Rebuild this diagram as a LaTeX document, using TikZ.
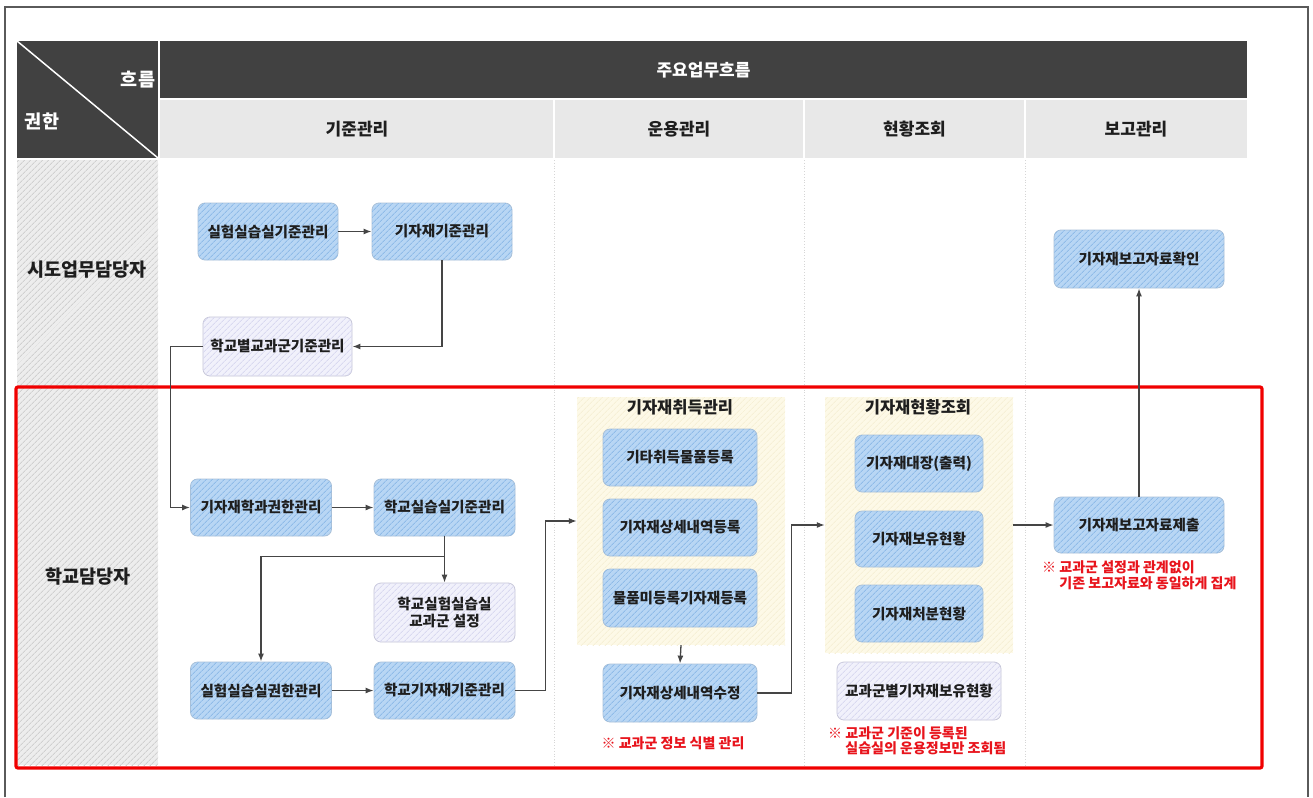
\documentclass[tikz,border=0pt]{standalone}
\usepackage{fontspec}
\setmainfont{Noto Sans CJK KR}
\usetikzlibrary{arrows.meta,patterns.meta}
\definecolor{hdark}{HTML}{414141}
\definecolor{hlight}{HTML}{E8E8E8}
\definecolor{colA}{HTML}{EDEDED}
\definecolor{colB}{HTML}{D0D0D0}
\definecolor{blueA}{HTML}{B8D6F4}
\definecolor{blueB}{HTML}{8FBBE8}
\definecolor{blueL}{HTML}{A9C0D8}
\definecolor{lavA}{HTML}{F1F1FB}
\definecolor{lavB}{HTML}{D9D9F0}
\definecolor{lavL}{HTML}{C6C6D8}
\definecolor{yelA}{HTML}{FDF9E7}
\definecolor{yelB}{HTML}{F6F0D6}
\definecolor{arrc}{HTML}{454545}
\definecolor{redc}{HTML}{F00000}
\definecolor{notec}{HTML}{E8141C}
\definecolor{txt}{HTML}{1E1E1E}
\definecolor{sep}{HTML}{D6D6D6}
\definecolor{framec}{HTML}{5A5A5A}
\begin{document}
\begin{tikzpicture}[x=1pt,y=-1pt,
  hatch/.style={postaction={pattern={Lines[angle=45,distance=4pt,line width=1pt]},pattern color=#1}},
  lbl/.style={font=\bfseries\fontsize{14.6}{17}\selectfont, text=txt, align=center, inner sep=0pt},
  box/.style={lbl, draw=blueL, line width=0.8pt, rounded corners=7pt, fill=blueA, hatch=blueB, minimum width=141pt, minimum height=57pt},
  lbox/.style={lbl, draw=lavL, line width=0.8pt, rounded corners=7pt, fill=lavA, hatch=lavB, minimum width=141pt, minimum height=59pt},
  panel/.style={fill=yelA, hatch=yelB, inner sep=0pt},
  arr/.style={draw=arrc, line width=1.3pt, -{Latex[length=8pt,width=6pt]}},
  note/.style={font=\bfseries\fontsize{14}{15.5}\selectfont, text=notec, align=left, inner sep=0pt},
  head/.style={font=\bfseries\fontsize{17}{20}\selectfont, inner sep=0pt},
  side/.style={font=\bfseries\fontsize{18.5}{21}\selectfont, inner sep=0pt, text=txt},
  ptitle/.style={font=\bfseries\fontsize{16.5}{19}\selectfont, inner sep=0pt, text=txt},
]
\useasboundingbox (0,0) rectangle (1313,797);
\fill[white] (0,0) rectangle (1313,797);
% outer frame
\draw[framec, line width=1.2pt] (5,797) -- (5,7) -- (1308,7) -- (1308,797);
% header
\fill[hdark] (17,41) rectangle (158,158);
\fill[hdark] (160,41) rectangle (1247,98);
\fill[hlight] (160,100) rectangle (1247,158);
\draw[white, line width=1.5pt] (17,41) -- (158,158);
\foreach \xx in {554,804,1025} \draw[white, line width=1.5pt] (\xx,100) -- (\xx,158);
\node[side, text=white] (hflow) at (138,80) {흐름};
\node[side, text=white] (hauth) at (42,121) {권한};
\node[head, text=white] (hmain) at (703.5,70) {주요업무흐름};
\node[head, text=txt] (h1) at (357,129) {기준관리};
\node[head, text=txt] (h2) at (679,129) {운용관리};
\node[head, text=txt] (h3) at (914.5,129) {현황조회};
\node[head, text=txt] (h4) at (1136,129) {보고관리};
% left column
\path[fill=colA, hatch=colB] (17,160) rectangle (158,765);
\node[side] (r1) at (87,270) {시도업무담당자};
\node[side] (r2) at (88,577) {학교담당자};
% body separators
\foreach \xx in {554,804,1025} \draw[sep, dotted, line width=0.8pt] (\xx,160) -- (\xx,765);
% red frame
\draw[redc, line width=3.2pt, rounded corners=2pt] (16,387) rectangle (1262,768);
% panels
\node[panel, minimum width=208pt, minimum height=248pt] (p1) at (681,521) {};
\node[panel, minimum width=188pt, minimum height=256pt] (p2) at (919,525) {};
\node[ptitle] (t1) at (680,407) {기자재취득관리};
\node[ptitle] (t2) at (918,407) {기자재현황조회};
% boxes
\node[box, minimum width=140pt] (a1) at (268,231.5) {실험실습실기준관리};
\node[box, minimum width=140pt] (a2) at (442,231.5) {기자재기준관리};
\node[lbox, minimum width=149pt] (a3) at (277.5,346.5) {학교별교과군기준관리};
\node[box, minimum width=170pt, minimum height=58pt] (e2) at (1139,259) {기자재보고자료확인};
\node[box] (b1) at (261,507.5) {기자재학과권한관리};
\node[box] (b2) at (444.5,507.5) {학교실습실기준관리};
\node[lbox] (b3) at (444.5,612.5) {학교실험실습실\\교과군 설정};
\node[box] (b4) at (261,690.5) {실험실습실권한관리};
\node[box] (b5) at (444.5,690.5) {학교기자재기준관리};
\node[box, minimum width=154pt] (c1) at (680,457.5) {기타취득물품등록};
\node[box, minimum width=154pt] (c2) at (680,527.5) {기자재상세내역등록};
\node[box, minimum width=154pt, minimum height=58pt] (c3) at (680,598) {물품미등록기자재등록};
\node[box, minimum width=154pt, minimum height=58pt] (c4) at (680,693) {기자재상세내역수정};
\node[box, minimum width=128pt] (d1) at (919,463.5) {기자재대장(출력)};
\node[box, minimum width=128pt, minimum height=56pt] (d2) at (919,539) {기자재보유현황};
\node[box, minimum width=128pt] (d3) at (919,613.5) {기자재처분현황};
\node[lbox, minimum width=164pt, minimum height=58pt] (d4) at (919,691) {교과군별기자재보유현황};
\node[box, minimum width=170pt, minimum height=56pt] (e1) at (1139,525) {기자재보고자료제출};
% notes
\node[note, align=center] (n1) at (673,743) {※ 교과군 정보 식별 관리};
\node[note, anchor=west] (n2) at (828,741) {※ 교과군 기준이 등록된\\\phantom{※ }실습실의 운용정보만 조회됨};
\node[note, anchor=west] (n3) at (1042,575.5) {※ 교과군 설정과 관계없이\\\phantom{※ }기존 보고자료와 동일하게 집계};
% connectors
\draw[arr] (a1) -- (a2);
\draw[arr] (a2.south) |- (a3.east);
\draw[arr] (a3.west) -- ++(-32,0) |- (b1.west);
\draw[arr] (b1) -- (b2);
\draw[arr] (b2.south) -- (b3.north);
\draw[arr] (b2.south) -- ++(0,20) -| (b4.north);
\draw[arr] (b4) -- (b5);
\draw[arr] (b5.east) -- ++(30,0) |- (p1.west);
\draw[arr] (p1.south) -- (c4.north);
\draw[arr] (c4.east) -- ++(34,0) |- (p2.west);
\draw[arr] (p2.east) -- (e1.west);
\draw[arr] (e1.north) -- (e2.south);
\end{tikzpicture}
\end{document}
